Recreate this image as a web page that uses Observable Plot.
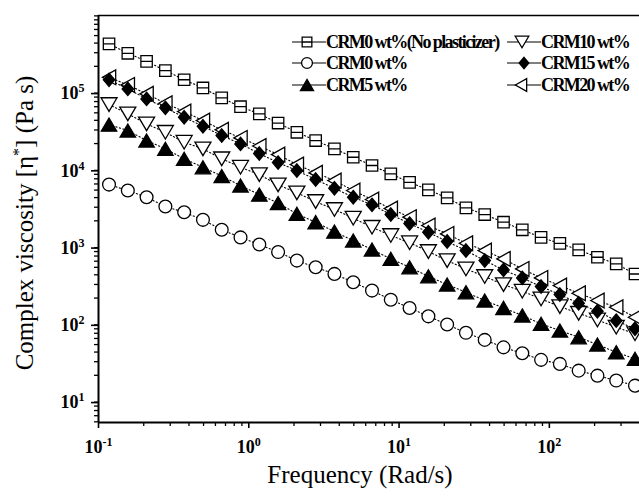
<!DOCTYPE html>
<html>
<head>
<meta charset="utf-8">
<script src="https://cdn.jsdelivr.net/npm/d3@7"></script>
<script src="https://cdn.jsdelivr.net/npm/@observablehq/plot@0.6"></script>
<style>
  body { margin: 0; background: #fff; }
  #wrap { position: relative; width: 639px; height: 500px; overflow: hidden; background: #fff; }
  #wrap svg text { font-family: "Liberation Serif", serif; }
  .lrow { position: absolute; display: flex; align-items: center; height: 20px; }
  .lrow span { font-family: "Liberation Serif", serif; font-weight: bold; font-size: 18px; letter-spacing: -1.6px; white-space: nowrap; color: #000; }
  .lrow svg { display: block; }
</style>
</head>
<body>
<div id="wrap"></div>
<script>
// ---- data ----
const frequency = [0.1175, 0.1567, 0.2089, 0.2786, 0.3715, 0.4955, 0.6607, 0.881, 1.175, 1.567,
  2.089, 2.786, 3.715, 4.955, 6.607, 8.81, 11.75, 15.67, 20.89, 27.86,
  37.15, 49.55, 66.07, 88.1, 117.5, 156.7, 208.9, 278.6, 371.5];

const seriesNames = ["CRM0 wt%(No plasticizer)", "CRM0 wt%", "CRM5 wt%", "CRM10 wt%", "CRM15 wt%", "CRM20 wt%"];

const crm0NoPlasticizer = [391000, 295000, 232000, 176000, 134000, 105000, 78000, 60000, 48500, 36900,
  28000, 21900, 17100, 13300, 10400, 8100, 6300, 5030, 3960, 2940,
  2410, 1920, 1530, 1220, 1020, 840, 675, 555, 410];
const crm0 = [5890, 4930, 4040, 3060, 2580, 2060, 1530, 1220, 986, 788,
  611, 501, 411, 320, 250, 190, 149, 116, 91, 71,
  57.5, 46, 38.6, 31.7, 28.1, 23, 19.8, 17.1, 14.7];
const crm5 = [35200, 29500, 21900, 17100, 12700, 9870, 7590, 5720, 4370, 3400,
  2460, 1920, 1450, 1110, 849, 643, 501, 383, 299, 238,
  186, 149, 119, 92.7, 75.9, 62.2, 50, 39.8, 32.7];
const crm10 = [64000, 48500, 36000, 28000, 20800, 17100, 12700, 9870, 7930, 5840,
  4600, 3550, 2800, 2160, 1650, 1290, 1040, 800, 611, 477,
  380, 299, 245, 195, 155, 127, 104, 84, 69];
const crm15 = [133600, 102100, 75800, 58000, 43800, 33500, 25400, 19800, 14850, 11350,
  8950, 6840, 5280, 4040, 3220, 2410, 1840, 1420, 1080, 824,
  611, 463, 365, 282, 222, 171, 135, 102, 80];
const crm20 = [144000, 115000, 88000, 66500, 51900, 39700, 30100, 23700, 18600, 14400,
  10700, 8350, 6640, 4930, 3770, 2880, 2230, 1740, 1355, 1024,
  824, 643, 477, 365, 290, 231, 186, 152, 113];

const xTickValues = [0.1, 1, 10, 100];
const yTickValues = [10, 100, 1000, 10000, 100000];
const xLabel = "Frequency (Rad/s)";
const yLabel = "Complex viscosity [η*] (Pa s)";

// ---- custom marker shapes ----
const symSquareMid = {draw(c, size) { const r = Math.sqrt(size / Math.PI);
  c.moveTo(-r, -r); c.lineTo(r, -r); c.lineTo(r, r); c.lineTo(-r, r); c.closePath();
  c.moveTo(-r, 0); c.lineTo(r, 0); }};
const symCircle = {draw(c, size) { const r = Math.sqrt(size / Math.PI);
  c.moveTo(r, 0); c.arc(0, 0, r, 0, 2 * Math.PI); }};
const symTriUp = {draw(c, size) { const r = Math.sqrt(size / Math.PI), h = r * 0.85;
  c.moveTo(0, -h); c.lineTo(r, h); c.lineTo(-r, h); c.closePath(); }};
const symTriDown = {draw(c, size) { const r = Math.sqrt(size / Math.PI), h = r * 0.85;
  c.moveTo(-r, -h); c.lineTo(r, -h); c.lineTo(0, h); c.closePath(); }};
const symTriLeft = {draw(c, size) { const r = Math.sqrt(size / Math.PI), w = r * 0.9;
  c.moveTo(-w, 0); c.lineTo(w, -r); c.lineTo(w, r); c.closePath(); }};
const symDiamond = {draw(c, size) { const r = Math.sqrt(size / Math.PI);
  c.moveTo(0, -r); c.lineTo(r * 0.85, 0); c.lineTo(0, r); c.lineTo(-r * 0.85, 0); c.closePath(); }};

const seriesValues = [crm0NoPlasticizer, crm0, crm5, crm10, crm15, crm20];
const seriesStyle = [
  {symbol: symSquareMid, r: 5.7, fill: "white"},
  {symbol: symCircle, r: 6.4, fill: "white"},
  {symbol: symTriUp, r: 7.7, fill: "black"},
  {symbol: symTriDown, r: 8, fill: "white"},
  {symbol: symDiamond, r: 6.7, fill: "black"},
  {symbol: symTriLeft, r: 7.4, fill: "white"}
];

const table = [];
seriesNames.forEach((name, k) => {
  seriesValues[k].forEach((v, i) => table.push({s: name, f: frequency[i], v}));
});

const xDomain = [0.1, 398];
const yDomain = [4.9, 9.1e5];

const xMinor = [];
for (let e = -1; e <= 2; e++) for (let m = 2; m <= 9; m++) { const t = m * 10 ** e; if (t < xDomain[1]) xMinor.push(t); }
const yMinor = [];
for (let e = 0; e <= 5; e++) for (let m = 2; m <= 9; m++) { const t = m * 10 ** e; if (t > yDomain[0] && t < yDomain[1]) yMinor.push(t); }

const pow = v => "10^" + Math.round(Math.log10(v));
const drawOrder = [1, 0, 2, 3, 5, 4];
const serif = "Liberation Serif";

const chart = Plot.plot({
  width: 639,
  height: 500,
  marginLeft: 98,
  marginRight: 0,
  marginTop: 15,
  marginBottom: 78,
  x: {type: "log", domain: xDomain},
  y: {type: "log", domain: yDomain},
  style: {fontFamily: serif, background: "white", color: "black"},
  marks: [
    Plot.line(table, {x: "f", y: "v", z: "s", stroke: "black", strokeWidth: 1.1, strokeDasharray: "1.2,2.4"}),
    ...drawOrder.map(k => Plot.dot(table.filter(d => d.s === seriesNames[k]), {
      x: "f", y: "v", r: seriesStyle[k].r, symbol: seriesStyle[k].symbol,
      fill: seriesStyle[k].fill, stroke: "black", strokeWidth: 1.3
    })),
    Plot.axisX({ticks: xMinor, tickSize: 4, tickFormat: () => "", label: null, strokeWidth: 1.3}),
    Plot.axisX({ticks: xTickValues, tickSize: 6, tickPadding: 12, tickFormat: pow, label: null,
      fontSize: 18, fontWeight: "bold", fontFamily: serif, strokeWidth: 1.6}),
    Plot.axisY({ticks: yMinor, tickSize: 4, tickFormat: () => "", label: null, strokeWidth: 1.3}),
    Plot.axisY({ticks: yTickValues, tickSize: 7, tickPadding: 7, tickFormat: pow, label: null,
      fontSize: 18, fontWeight: "bold", fontFamily: serif, dy: 4, strokeWidth: 1.6}),
    Plot.ruleX([xDomain[0]], {strokeWidth: 2}),
    Plot.ruleY([yDomain[0]], {strokeWidth: 2}),
    Plot.ruleY([yDomain[1]], {strokeWidth: 1.6}),
    Plot.text([yLabel], {frameAnchor: "left", textAnchor: "middle", dx: -74, dy: 4, rotate: -90, fontSize: 25, fontFamily: serif}),
    Plot.text([xLabel], {frameAnchor: "bottom", textAnchor: "middle", dx: -9, dy: 60, fontSize: 25, fontFamily: serif})
  ]
});

// superscripts on tick labels and on η*
d3.select(chart).selectAll("text").each(function() {
  const t = this.textContent;
  const m = /^10\^(-?\d+)$/.exec(t);
  if (m) {
    const sel = d3.select(this);
    sel.text("10");
    sel.append("tspan").attr("dy", "-7px").attr("font-size", "12px").text(m[1]);
  } else if (t === yLabel) {
    const sel = d3.select(this);
    const [a, b] = t.split("*");
    sel.text(a);
    sel.append("tspan").attr("dy", "-9px").attr("font-size", "16px").text("*");
    sel.append("tspan").attr("dy", "9px").text(b);
  }
});

const wrap = document.getElementById("wrap");
wrap.appendChild(chart);

// ---- legend (inside the plot, top right) ----
const legendPos = [
  {left: 292, top: 42, sx: 15}, {left: 292, top: 63, sx: 15}, {left: 292, top: 85, sx: 15},
  {left: 507, top: 42, sx: 15}, {left: 507, top: 63, sx: 17}, {left: 507, top: 85, sx: 14}
];
seriesNames.forEach((name, k) => {
  const p = legendPos[k];
  const row = d3.select(wrap).append("div").attr("class", "lrow")
    .style("left", p.left + "px").style("top", (p.top - 10) + "px");
  const svg = row.append("svg").attr("width", 34).attr("height", 20);
  svg.append("line").attr("x1", 0).attr("x2", 34).attr("y1", 10).attr("y2", 10)
    .attr("stroke", "black").attr("stroke-width", 1.1);
  const rr = seriesStyle[k].r * 0.85;
  svg.append("path").attr("transform", `translate(${p.sx},10)`)
    .attr("d", d3.symbol(seriesStyle[k].symbol, rr * rr * Math.PI)())
    .attr("fill", seriesStyle[k].fill).attr("stroke", "black").attr("stroke-width", 1.3);
  row.append("span").text(name);
});
</script>
</body>
</html>
